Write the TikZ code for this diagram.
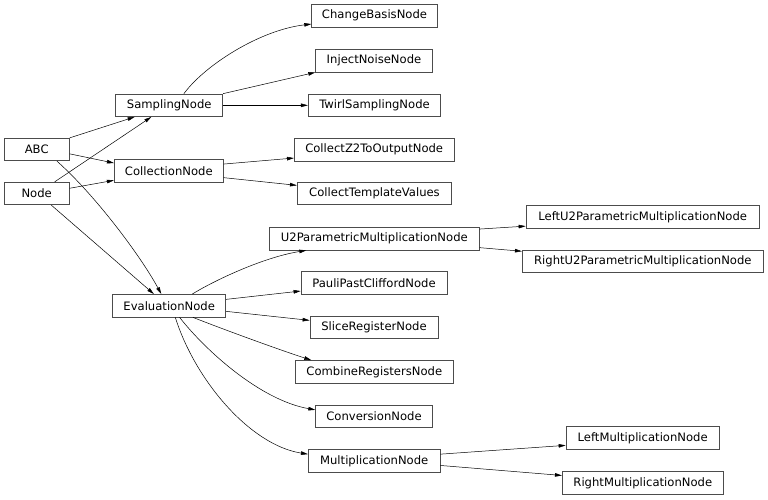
\documentclass[tikz,border=0pt]{standalone}
\usepackage{fontspec}
\setmainfont{DejaVu Sans}
\usetikzlibrary{arrows.meta}
\begin{document}
\begin{tikzpicture}[x=1pt,y=-1pt,
  cls/.style={draw=black!70,line width=0.8pt,fill=white,minimum height=22.5pt,inner sep=0pt,
    font=\fontsize{11.6pt}{14pt}\selectfont},
  inh/.style={draw=black,line width=0.5pt,-{Triangle[length=7pt,width=3.6pt]}}]
\useasboundingbox (0,0) rectangle (768,499);
% nodes
\node[cls,minimum width=65.3pt] (abc) at (36.7,149.5) {ABC};
\node[cls,minimum width=65.3pt] (nd) at (36.7,193.5) {Node};
\node[cls,minimum width=107pt] (samp) at (169.2,105.3) {SamplingNode};
\node[cls,minimum width=109pt] (coll) at (168.8,170.7) {CollectionNode};
\node[cls,minimum width=113pt] (eval) at (169.2,305.7) {EvaluationNode};
\node[cls,minimum width=125.6pt] (cb) at (374.5,15.7) {ChangeBasisNode};
\node[cls,minimum width=116.6pt] (inj) at (374,60.7) {InjectNoiseNode};
\node[cls,minimum width=132.4pt] (twirl) at (374.5,105.3) {TwirlSamplingNode};
\node[cls,minimum width=159.7pt] (z2) at (374.2,149.7) {CollectZ2ToOutputNode};
\node[cls,minimum width=154.4pt] (tmpl) at (374.5,193.3) {CollectTemplateValues};
\node[cls,minimum width=210pt] (u2) at (374.3,238.7) {U2ParametricMultiplicationNode};
\node[cls,minimum width=146pt] (pauli) at (374,283) {PauliPastCliffordNode};
\node[cls,minimum width=128pt] (slice) at (374,327.3) {SliceRegisterNode};
\node[cls,minimum width=158pt] (comb) at (374.3,371.8) {CombineRegistersNode};
\node[cls,minimum width=116.6pt] (conv) at (374,416.2) {ConversionNode};
\node[cls,minimum width=131.7pt] (mult) at (374.2,460.8) {MultiplicationNode};
\node[cls,minimum width=233.3pt] (lu2) at (642.7,216.8) {LeftU2ParametricMultiplicationNode};
\node[cls,minimum width=241pt] (ru2) at (642.8,261.2) {RightU2ParametricMultiplicationNode};
\node[cls,minimum width=153.3pt] (lm) at (642.7,438) {LeftMultiplicationNode};
\node[cls,minimum width=161pt] (rm) at (642.8,482.8) {RightMultiplicationNode};
% edges
\draw[inh] (abc.north east) -- ([shift={(19.3,0)}]samp.south west);
\draw[inh] ([shift={(51,0)}]nd.north west) -- ([shift={(36,0)}]samp.south west);
\draw[inh] ([shift={(0,16)}]abc.north east) -- ([shift={(0,4)}]coll.north west);
\draw[inh] ([shift={(0,6.4)}]nd.north east) -- ([shift={(0,-2)}]coll.south west);
\draw[inh] ([shift={(53.3,0)}]abc.south west) .. controls (95,195) and (140,255) .. ([shift={(49,0)}]eval.north west);
\draw[inh] ([shift={(47.7,0)}]nd.south west) -- ([shift={(41.6,0)}]eval.north west);
\draw[inh] ([shift={(68.6,0)}]samp.north west) .. controls (205,65) and (260,30) .. ([shift={(0,-3.3)}]cb.south west);
\draw[inh] (samp.north east) -- (inj.south west);
\draw[inh] (samp.east) -- (twirl.west);
\draw[inh] ([shift={(0,5)}]coll.north east) -- ([shift={(0,-3.3)}]z2.south west);
\draw[inh] ([shift={(0,-4.7)}]coll.south east) -- ([shift={(0,3.7)}]tmpl.north west);
\draw[inh] ([shift={(80,0)}]eval.north west) .. controls (210,283) and (260,258) .. ([shift={(37.4,0)}]u2.south west);
\draw[inh] ([shift={(0,5.3)}]eval.north east) -- ([shift={(0,-3.6)}]pauli.south west);
\draw[inh] ([shift={(0,-6)}]eval.south east) -- ([shift={(0,4.7)}]slice.north west);
\draw[inh] ([shift={(80.6,0)}]eval.south west) .. controls (225,330) and (280,350) .. ([shift={(16.4,0)}]comb.north west);
\draw[inh] ([shift={(67.3,0)}]eval.south west) .. controls (205,350) and (260,400) .. ([shift={(0,5.3)}]conv.north west);
\draw[inh] ([shift={(63,0)}]eval.south west) .. controls (195,380) and (250,445) .. ([shift={(0,5)}]mult.north west);
\draw[inh] ([shift={(0,2)}]u2.north east) -- ([shift={(0,-2.3)}]lu2.south west);
\draw[inh] ([shift={(0,-2.7)}]u2.south east) -- ([shift={(0,1.7)}]ru2.north west);
\draw[inh] ([shift={(0,5)}]mult.north east) -- ([shift={(0,-4.3)}]lm.south west);
\draw[inh] ([shift={(0,-7)}]mult.south east) -- ([shift={(0,4.3)}]rm.north west);
\end{tikzpicture}
\end{document}
